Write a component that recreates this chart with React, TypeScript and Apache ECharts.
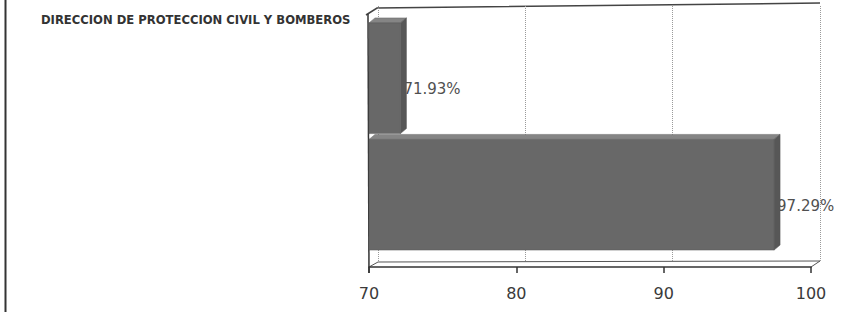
import React, { useEffect, useRef } from "react";
import * as echarts from "echarts";

const categoryLabel = "DIRECCION DE PROTECCION CIVIL Y BOMBEROS";
const barKeys = ["Serie 1", "Serie 2"];
const barValues = [71.93, 97.29];
const xMin = 70;
const xMax = 100;
const xStep = 10;

const FONT = "'DejaVu Sans', Verdana, sans-serif";

export default function App() {
  const ref = useRef<HTMLDivElement>(null);
  useEffect(() => {
    if (!ref.current) return;
    const chart = echarts.init(ref.current, null, { renderer: "svg" });
    const DX = 6;
    const DY = 5;
    const option: any = {
      animation: false,
      backgroundColor: "#ffffff",
      title: {
        text: categoryLabel,
        left: 36,
        top: 9,
        textStyle: { fontFamily: FONT, fontSize: 11.6, fontWeight: "bold", color: "#333" },
      },
      grid: [
        { left: 369, right: 31, top: 20, bottom: 59, containLabel: false },
        { left: 378, right: 22, top: 6, bottom: 50, containLabel: false },
      ],
      xAxis: [
        {
          type: "value",
          gridIndex: 0,
          min: xMin,
          max: xMax,
          interval: xStep,
          offset: 14,
          axisLine: { show: true, lineStyle: { color: "#333", width: 1.5 } },
          axisTick: { show: true, length: 6, lineStyle: { color: "#333", width: 1.5 } },
          axisLabel: { fontFamily: FONT, fontSize: 16, color: "#3a3a3a", margin: 18 },
          splitLine: { show: false },
        },
        {
          type: "value",
          gridIndex: 1,
          min: xMin,
          max: xMax,
          interval: xStep,
          axisLine: { show: false },
          axisTick: { show: false },
          axisLabel: { show: false },
          splitLine: { show: true, lineStyle: { color: "#9a9a9a", type: "dotted", width: 1 } },
        },
      ],
      yAxis: [
        {
          type: "category",
          gridIndex: 0,
          data: barKeys,
          inverse: true,
          axisLine: { show: false },
          axisTick: { show: false },
          axisLabel: { show: false },
        },
        {
          type: "category",
          gridIndex: 1,
          data: barKeys,
          show: false,
        },
      ],
      graphic: [
        { type: "line", shape: { x1: 5.5, y1: 0, x2: 5.5, y2: 312 }, style: { stroke: "#333", lineWidth: 2 } },
        { type: "polyline", shape: { points: [[366, 15], [377, 8], [820, 3]] }, style: { stroke: "#444", lineWidth: 1.5, fill: null } },
        { type: "line", shape: { x1: 368, y1: 14, x2: 369, y2: 273 }, style: { stroke: "#333", lineWidth: 1.5 } },
        { type: "polyline", shape: { points: [[369, 267], [378, 262], [820, 261], [811, 267]] }, style: { stroke: "#555", lineWidth: 1, fill: null } },
      ],
      series: [
        {
          type: "custom",
          xAxisIndex: 0,
          yAxisIndex: 0,
          data: barValues.map((v, i) => [v, i]),
          renderItem: (params: any, api: any) => {
            const v = api.value(0);
            const idx = api.value(1);
            const s = api.coord([xMin, idx]);
            const e = api.coord([v, idx]);
            const band = api.size([0, 1])[1];
            const h = band * 0.95;
            const x0 = s[0];
            const x1 = e[0] + 3;
            const y0 = s[1] - h / 2;
            const y1 = y0 + h;
            const label = v.toFixed(2) + "%";
            return {
              type: "group",
              children: [
                {
                  type: "text",
                  style: {
                    text: label,
                    x: x1 + DX - 3,
                    y: s[1] + h * 0.1,
                    fill: "#505050",
                    fontSize: 15,
                    fontFamily: FONT,
                    verticalAlign: "middle",
                    align: "left",
                  },
                },
                {
                  type: "polygon",
                  shape: { points: [[x0, y0], [x0 + DX, y0 - DY], [x1 + DX, y0 - DY], [x1, y0]] },
                  style: { fill: "#858585", stroke: "#666", lineWidth: 0.5 },
                },
                {
                  type: "polygon",
                  shape: { points: [[x1, y0], [x1 + DX, y0 - DY], [x1 + DX, y1 - DY], [x1, y1]] },
                  style: { fill: "#575757", stroke: "#555", lineWidth: 0.5 },
                },
                {
                  type: "rect",
                  shape: { x: x0, y: y0, width: x1 - x0, height: h },
                  style: { fill: "#686868", stroke: "#5a5a5a", lineWidth: 0.5 },
                },
              ],
            };
          },
        },
      ],
    };
    chart.setOption(option);
    return () => chart.dispose();
  }, []);
  return <div ref={ref} style={{ width: 842, height: 312, position: "absolute", left: 0, top: 0 }} />;
}
